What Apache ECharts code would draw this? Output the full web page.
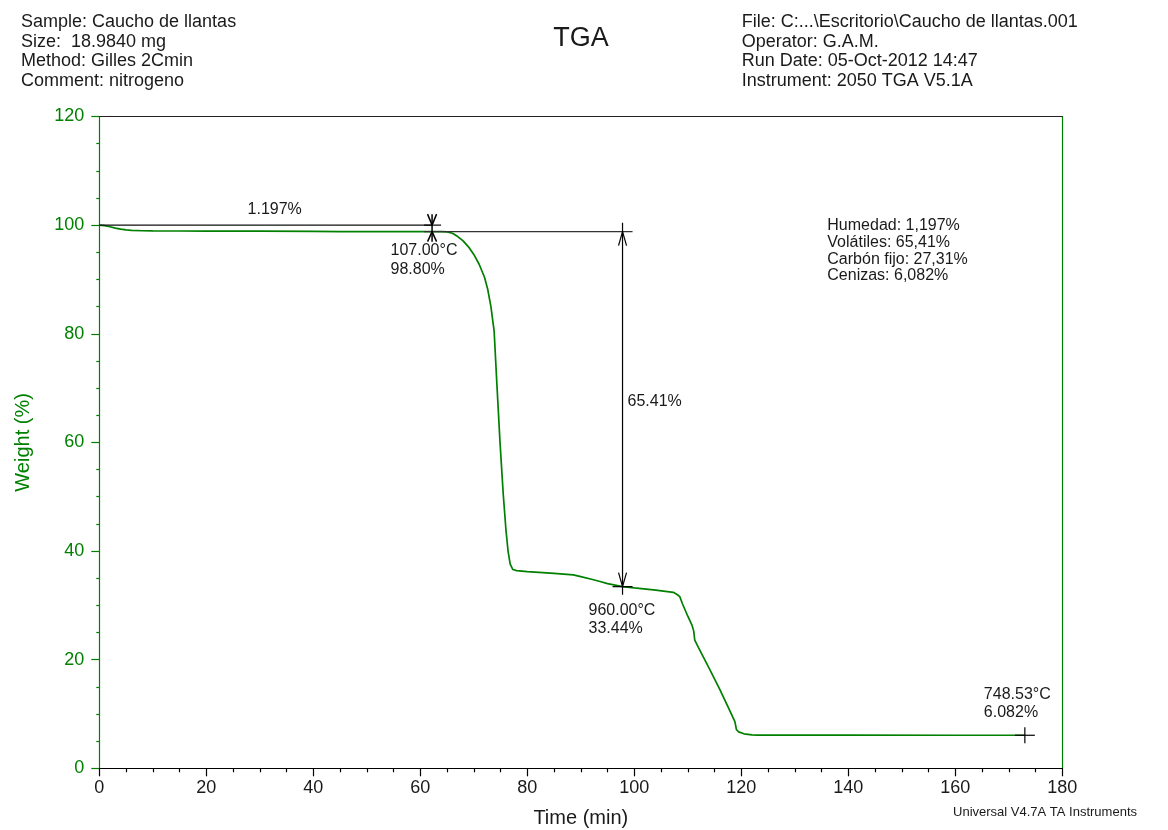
<!DOCTYPE html>
<html><head><meta charset="utf-8">
<script src="https://cdn.jsdelivr.net/npm/echarts@6/dist/echarts.min.js"></script>
<style>html,body{margin:0;padding:0;background:#fff}#c{width:1168px;height:830px}</style>
</head><body><div id="c"></div>
<script>
// ---- data ----
const timeMin = [0, 1, 2, 3, 4, 5, 6, 8, 10, 15, 20, 30, 40, 45, 50, 60, 62.2, 64, 65, 66, 67, 68, 69, 70, 71, 72, 72.6, 73.2, 73.8, 74.3, 74.9, 75.5, 76, 76.4, 76.8, 77.3, 78, 80, 85, 88.6, 90, 92, 93.6, 95, 97.8, 100, 104, 107.3, 108, 108.5, 109, 110, 110.8, 111.1, 111.3, 112, 114, 116, 118, 118.8, 119.1, 119.5, 120.5, 122, 123, 140, 160, 173];
const weightPct = [100, 99.92, 99.7, 99.45, 99.25, 99.12, 99.03, 98.97, 98.94, 98.92, 98.9, 98.88, 98.85, 98.82, 98.8, 98.8, 98.8, 98.8, 98.75, 98.5, 97.9, 97.1, 96.0, 94.6, 92.8, 90.4, 88.2, 85, 80.5, 71, 60, 50.5, 44, 40, 37.6, 36.6, 36.4, 36.2, 35.9, 35.6, 35.3, 34.8, 34.4, 34.0, 33.44, 33.2, 32.8, 32.4, 32.0, 31.6, 30.3, 28.0, 26.3, 25.3, 23.6, 22.2, 18.4, 14.5, 10.3, 8.6, 7.1, 6.7, 6.35, 6.15, 6.1, 6.09, 6.085, 6.082];
const xTickValues = [0, 20, 40, 60, 80, 100, 120, 140, 160, 180];
const yTickValues = [0, 20, 40, 60, 80, 100, 120];
const headerLeft = ['Sample: Caucho de llantas', 'Size:  18.9840 mg', 'Method: Gilles 2Cmin', 'Comment: nitrogeno'];
const headerRight = ['File: C:...\\Escritorio\\Caucho de llantas.001', 'Operator: G.A.M.', 'Run Date: 05-Oct-2012 14:47', 'Instrument: 2050 TGA V5.1A'];
const summaryLines = ['Humedad: 1,197%', 'Volátiles: 65,41%', 'Carbón fijo: 27,31%', 'Cenizas: 6,082%'];
const step1 = { x: 62.2, top: 100, bottom: 98.8, label: '1.197%', ptLabel: ['107.00°C', '98.80%'] };
const step2 = { x: 97.8, top: 98.8, bottom: 33.44, label: '65.41%', ptLabel: ['960.00°C', '33.44%'] };
const endPoint = { x: 173.0, y: 6.082, ptLabel: ['748.53°C', '6.082%'] };

const GREEN = '#008000';
const FONT = '"Liberation Sans", Arial, sans-serif';

const curve = timeMin.map((t, i) => [t, weightPct[i]]);

function ln(x1, y1, x2, y2, color, w) {
  return { type: 'line', shape: { x1, y1, x2, y2 }, style: { stroke: color || '#000', lineWidth: w || 1.2 } };
}
function txt(x, baseline, s, size, align, color) {
  size = size || 16;
  return { type: 'text', x: x, y: baseline - size * 0.36,
    style: { text: s, fill: color || '#1a1a1a', font: size + 'px ' + FONT, textAlign: align || 'left', textVerticalAlign: 'middle' } };
}

function renderAnnot(params, api) {
  const c = (x, y) => api.coord([x, y]);
  const ch = [];
  const a = c(0, step1.top), b = c(step1.x, step1.top), d = c(step1.x, step1.bottom);
  const e = c(step2.x, step2.top), f = c(step2.x, step2.bottom);
  const g = c(endPoint.x, endPoint.y);
  // baseline 100 line and 98.8 line
  ch.push(ln(a[0], a[1], b[0] + 9, b[1], '#111'));
  ch.push(ln(d[0] - 8, d[1], e[0] + 10, e[1], '#333'));
  // step1 marker
  ch.push(ln(b[0] - 8, b[1], b[0], b[1], '#000'));
  ch.push(ln(b[0], b[1] - 11, d[0], d[1] + 10, '#000', 1.5));
  ch.push(ln(b[0] - 4.5, b[1] - 11, b[0], b[1], '#000', 1.5));
  ch.push(ln(b[0] + 4.5, b[1] - 11, b[0], b[1], '#000', 1.5));
  ch.push(ln(d[0] - 4.5, d[1] + 10, d[0], d[1], '#000', 1.5));
  ch.push(ln(d[0] + 4.5, d[1] + 10, d[0], d[1], '#000', 1.5));
  // step2 vertical arrow
  ch.push(ln(e[0], e[1] - 9, f[0], f[1] + 8, '#000'));
  ch.push(ln(e[0] - 4, e[1] + 14, e[0], e[1], '#000'));
  ch.push(ln(e[0] + 4, e[1] + 14, e[0], e[1], '#000'));
  ch.push(ln(f[0] - 4, f[1] - 14, f[0], f[1], '#000'));
  ch.push(ln(f[0] + 4, f[1] - 14, f[0], f[1], '#000'));
  ch.push(ln(f[0] - 10, f[1], f[0] + 10, f[1], '#000'));
  // end crosshair
  ch.push(ln(g[0] - 10, g[1], g[0] + 10, g[1], '#000'));
  ch.push(ln(g[0], g[1] - 8, g[0], g[1] + 8, '#000'));
  // labels
  ch.push(txt((a[0] + b[0]) / 2 + 9, a[1] - 10, step1.label, 16, 'center'));
  ch.push(txt(d[0] - 41.5, d[1] + 25, step1.ptLabel[0]));
  ch.push(txt(d[0] - 41.5, d[1] + 43.5, step1.ptLabel[1]));
  ch.push(txt(e[0] + 5, (e[1] + f[1]) / 2 - 2, step2.label));
  ch.push(txt(f[0] - 34, f[1] + 30, step2.ptLabel[0]));
  ch.push(txt(f[0] - 34, f[1] + 48, step2.ptLabel[1]));
  ch.push(txt(g[0] - 41, g[1] - 35.3, endPoint.ptLabel[0]));
  ch.push(txt(g[0] - 41, g[1] - 16.7, endPoint.ptLabel[1]));
  return { type: 'group', children: ch };
}

const graphics = [];
headerLeft.forEach((s, i) => graphics.push(txt(21, 28.3 + i * 19.8, s, 18)));
headerRight.forEach((s, i) => graphics.push(txt(741.7, 28.3 + i * 19.8, s, 18)));
summaryLines.forEach((s, i) => graphics.push(txt(827.3, 231.7 + i * 16.7, s, 16)));
graphics.push(txt(581, 48.3, 'TGA', 27, 'center'));
graphics.push(txt(1137, 817, 'Universal V4.7A TA Instruments', 13, 'right'));

const chart = echarts.init(document.getElementById('c'), null, { renderer: 'canvas' });
chart.setOption({
  animation: false,
  backgroundColor: '#fff',
  grid: { left: 99.3, right: 105.7, top: 116.5, bottom: 61.7, containLabel: false, outerBoundsMode: 'none' },
  xAxis: [{
    type: 'value', min: 0, max: 180, interval: 20, position: 'bottom',
    name: 'Time (min)', nameLocation: 'middle', nameGap: 40,
    nameTextStyle: { color: '#1a1a1a', fontSize: 20, fontFamily: FONT },
    axisLine: { show: true, lineStyle: { color: '#000', width: 1.2 } },
    axisTick: { show: true, length: 8, lineStyle: { color: '#000', width: 1.2 } },
    minorTick: { show: true, splitNumber: 4, length: 4, lineStyle: { color: '#000', width: 1.2 } },
    axisLabel: { color: '#1a1a1a', fontSize: 18, fontFamily: FONT, margin: 11,
      customValues: xTickValues },
    splitLine: { show: false }
  }, {
    type: 'value', min: 0, max: 180, position: 'top',
    axisLine: { show: true, onZero: false, lineStyle: { color: '#222', width: 1.2 } },
    axisTick: { show: false }, axisLabel: { show: false }, splitLine: { show: false }
  }],
  yAxis: [{
    type: 'value', min: 0, max: 120, interval: 20, position: 'left',
    name: 'Weight (%)', nameLocation: 'middle', nameGap: 66,
    nameTextStyle: { color: GREEN, fontSize: 20, fontFamily: FONT },
    axisLine: { show: true, lineStyle: { color: GREEN, width: 1.2 } },
    axisTick: { show: true, length: 8, lineStyle: { color: GREEN, width: 1.2 } },
    minorTick: { show: true, splitNumber: 4, length: 3, lineStyle: { color: GREEN, width: 1.2 } },
    axisLabel: { color: GREEN, fontSize: 18, fontFamily: FONT, margin: 15, customValues: yTickValues },
    splitLine: { show: false }
  }, {
    type: 'value', min: 0, max: 120, position: 'right',
    axisLine: { show: true, onZero: false, lineStyle: { color: GREEN, width: 1.2 } },
    axisTick: { show: false }, axisLabel: { show: false }, splitLine: { show: false }
  }],
  series: [{
    type: 'line', data: curve, showSymbol: false, smooth: false,
    lineStyle: { color: GREEN, width: 1.7 }, z: 3
  }, {
    type: 'custom', data: [0], renderItem: renderAnnot, z: 4, silent: true
  }],
  graphic: graphics
});
</script>
</body></html>
